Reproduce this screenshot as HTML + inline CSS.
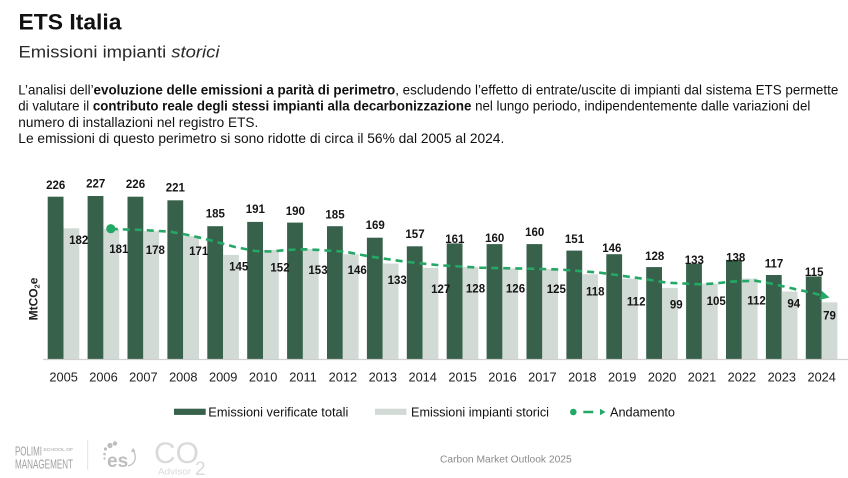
<!DOCTYPE html>
<html><head><meta charset="utf-8"><style>
html,body{margin:0;padding:0;background:#fff;}
svg{display:block;}
text{font-family:"Liberation Sans",sans-serif;}
</style></head><body>
<svg width="848" height="478" viewBox="0 0 848 478" xmlns="http://www.w3.org/2000/svg">
<rect width="848" height="478" fill="#fff"/>
<!-- Title -->
<text x="18.5" y="29.3" font-size="22" font-weight="bold" fill="#111" textLength="103" lengthAdjust="spacingAndGlyphs">ETS Italia</text>
<text x="18.5" y="57.3" font-size="16.5" fill="#2a2a2a" textLength="201" lengthAdjust="spacingAndGlyphs">Emissioni impianti <tspan font-style="italic">storici</tspan></text>
<!-- Paragraph -->
<g font-size="13.6" fill="#111">
<text x="18.3" y="94.3" textLength="820" lengthAdjust="spacingAndGlyphs">L’analisi dell’<tspan font-weight="bold">evoluzione delle emissioni a parità di perimetro</tspan>, escludendo l’effetto di entrate/uscite di impianti dal sistema ETS permette</text>
<text x="18.3" y="110.5" textLength="792" lengthAdjust="spacingAndGlyphs">di valutare il <tspan font-weight="bold">contributo reale degli stessi impianti alla decarbonizzazione</tspan> nel lungo periodo, indipendentemente dalle variazioni del</text>
<text x="18.3" y="126.8" textLength="240" lengthAdjust="spacingAndGlyphs">numero di installazioni nel registro ETS.</text>
<text x="18.3" y="143" textLength="486" lengthAdjust="spacingAndGlyphs">Le emissioni di questo perimetro si sono ridotte di circa il 56% dal 2005 al 2024.</text>
</g>
<!-- Dark bars -->
<g fill="#37614a">
<rect x="47.7" y="196.7" width="15.8" height="162.3"/>
<rect x="87.6" y="196.0" width="15.8" height="163.0"/>
<rect x="127.5" y="196.7" width="15.8" height="162.3"/>
<rect x="167.4" y="200.3" width="15.8" height="158.7"/>
<rect x="207.3" y="226.2" width="15.8" height="132.8"/>
<rect x="247.2" y="221.9" width="15.8" height="137.1"/>
<rect x="287.1" y="222.6" width="15.8" height="136.4"/>
<rect x="327.0" y="226.2" width="15.8" height="132.8"/>
<rect x="366.9" y="237.7" width="15.8" height="121.3"/>
<rect x="406.8" y="246.3" width="15.8" height="112.7"/>
<rect x="446.7" y="243.4" width="15.8" height="115.6"/>
<rect x="486.6" y="244.1" width="15.8" height="114.9"/>
<rect x="526.5" y="244.1" width="15.8" height="114.9"/>
<rect x="566.4" y="250.6" width="15.8" height="108.4"/>
<rect x="606.3" y="254.2" width="15.8" height="104.8"/>
<rect x="646.2" y="267.1" width="15.8" height="91.9"/>
<rect x="686.1" y="263.5" width="15.8" height="95.5"/>
<rect x="726.0" y="259.9" width="15.8" height="99.1"/>
<rect x="765.9" y="275.0" width="15.8" height="84.0"/>
<rect x="805.8" y="276.4" width="15.8" height="82.6"/>
</g>
<!-- Light bars -->
<g fill="#d2dad6">
<rect x="63.5" y="228.3" width="15.8" height="130.7"/>
<rect x="103.4" y="229.0" width="15.8" height="130.0"/>
<rect x="143.3" y="231.2" width="15.8" height="127.8"/>
<rect x="183.2" y="236.2" width="15.8" height="122.8"/>
<rect x="223.1" y="254.9" width="15.8" height="104.1"/>
<rect x="263.0" y="249.9" width="15.8" height="109.1"/>
<rect x="302.9" y="249.1" width="15.8" height="109.9"/>
<rect x="342.8" y="254.2" width="15.8" height="104.8"/>
<rect x="382.7" y="263.5" width="15.8" height="95.5"/>
<rect x="422.6" y="267.8" width="15.8" height="91.2"/>
<rect x="462.5" y="267.1" width="15.8" height="91.9"/>
<rect x="502.4" y="268.5" width="15.8" height="90.5"/>
<rect x="542.3" y="269.2" width="15.8" height="89.8"/>
<rect x="582.2" y="274.3" width="15.8" height="84.7"/>
<rect x="622.1" y="278.6" width="15.8" height="80.4"/>
<rect x="662.0" y="287.9" width="15.8" height="71.1"/>
<rect x="701.9" y="283.6" width="15.8" height="75.4"/>
<rect x="741.8" y="278.6" width="15.8" height="80.4"/>
<rect x="781.7" y="291.5" width="15.8" height="67.5"/>
<rect x="821.6" y="302.3" width="15.8" height="56.7"/>
</g>
<!-- Axis -->
<line x1="43" y1="359.5" x2="848" y2="359.5" stroke="#cfcfcf" stroke-width="1.3"/>
<!-- Trend line -->
<path d="M110.8,228.7 L120,229.3 L143,230 L170,231.7 L188,235 L200,237.7 L213,241 L235,247 L255,251 L270,251.5 L290,249.8 L305,249.3 L320,250 L345,251.7 L370,256.5 L390,259.5 L405,261.7 L440,265.3 L480,267.7 L530,268.7 L560,269.5 L600,272.7 L640,278.3 L667,282.7 L700,284.3 L715,283.5 L730,281.7 L755,280.7 L770,283.3 L796,289.3 L810,292.3 L821,295.2" fill="none" stroke="#23a865" stroke-width="2.6" stroke-dasharray="7,5"/>
<circle cx="110.8" cy="228.7" r="4.6" fill="#23a865"/>
<polygon points="829.5,297.5 819.7,299.9 821.9,290.9" fill="#23a865"/>
<!-- Dark value labels -->
<g font-size="11.5" font-weight="bold" fill="#151515" text-anchor="middle">
<text x="55.7" y="189">226</text>
<text x="95.7" y="187.3">227</text>
<text x="135.5" y="188">226</text>
<text x="175.3" y="191.3">221</text>
<text x="215.3" y="217.7">185</text>
<text x="255.3" y="213">191</text>
<text x="295.3" y="215">190</text>
<text x="335" y="218.3">185</text>
<text x="375.2" y="229">169</text>
<text x="415" y="238">157</text>
<text x="454.8" y="243">161</text>
<text x="494.7" y="242">160</text>
<text x="534.7" y="236">160</text>
<text x="574.5" y="243">151</text>
<text x="611.8" y="252">146</text>
<text x="654.7" y="260">128</text>
<text x="694.3" y="264">133</text>
<text x="735.7" y="261.7">138</text>
<text x="774" y="267.3">117</text>
<text x="814.2" y="276">115</text>
</g>
<!-- Light value labels -->
<g font-size="11.5" font-weight="bold" fill="#151515" text-anchor="middle">
<text x="78.7" y="244">182</text>
<text x="118.8" y="253">181</text>
<text x="155.3" y="254">178</text>
<text x="198.7" y="255">171</text>
<text x="238.7" y="270.7">145</text>
<text x="280" y="271.3">152</text>
<text x="318" y="274">153</text>
<text x="357.2" y="274">146</text>
<text x="397.2" y="284">133</text>
<text x="440.7" y="293">127</text>
<text x="475.5" y="292.3">128</text>
<text x="515.5" y="292.3">126</text>
<text x="556.3" y="293">125</text>
<text x="595.3" y="295.7">118</text>
<text x="636.2" y="305.7">112</text>
<text x="676.3" y="308.7">99</text>
<text x="716.2" y="305">105</text>
<text x="756.5" y="304.3">112</text>
<text x="793.8" y="307.3">94</text>
<text x="829.5" y="319.7">79</text>
</g>
<!-- Year labels -->
<g font-size="12.8" fill="#222" text-anchor="middle">
<text x="63.6" y="381.5">2005</text>
<text x="103.5" y="381.5">2006</text>
<text x="143.4" y="381.5">2007</text>
<text x="183.3" y="381.5">2008</text>
<text x="223.2" y="381.5">2009</text>
<text x="263.1" y="381.5">2010</text>
<text x="303.0" y="381.5">2011</text>
<text x="342.9" y="381.5">2012</text>
<text x="382.8" y="381.5">2013</text>
<text x="422.7" y="381.5">2014</text>
<text x="462.6" y="381.5">2015</text>
<text x="502.5" y="381.5">2016</text>
<text x="542.4" y="381.5">2017</text>
<text x="582.3" y="381.5">2018</text>
<text x="622.2" y="381.5">2019</text>
<text x="662.1" y="381.5">2020</text>
<text x="702.0" y="381.5">2021</text>
<text x="741.9" y="381.5">2022</text>
<text x="781.8" y="381.5">2023</text>
<text x="821.7" y="381.5">2024</text>
</g>
<!-- Y axis label -->
<text transform="translate(37.5,299) rotate(-90)" font-size="12" font-weight="bold" fill="#222" text-anchor="middle">MtCO<tspan font-size="7.5" dy="2">2</tspan><tspan dy="-2">e</tspan></text>
<!-- Legend -->
<rect x="174" y="408.7" width="31.7" height="6.2" fill="#37614a"/>
<text x="208.3" y="416.3" font-size="12.8" fill="#111" textLength="140" lengthAdjust="spacingAndGlyphs">Emissioni verificate totali</text>
<rect x="375" y="408.7" width="31.5" height="6.2" fill="#d2dad6"/>
<text x="411" y="416.3" font-size="12.8" fill="#111" textLength="138" lengthAdjust="spacingAndGlyphs">Emissioni impianti storici</text>
<circle cx="573.3" cy="412" r="3.3" fill="#23a865"/>
<line x1="583.3" y1="412" x2="593.3" y2="412" stroke="#23a865" stroke-width="2.5"/>
<polygon points="600,408.8 605.5,412 600,415.2" fill="#23a865"/>
<text x="610" y="416.3" font-size="12.8" fill="#111" textLength="65" lengthAdjust="spacingAndGlyphs">Andamento</text>
<!-- Footer logos -->
<g fill="#a0a0a0">
<text x="15" y="455.7" font-size="13" textLength="27" lengthAdjust="spacingAndGlyphs">POLIMI</text>
<text x="43.3" y="451" font-size="4.5" textLength="30" lengthAdjust="spacingAndGlyphs">SCHOOL OF</text>
<text x="15" y="468.3" font-size="13" textLength="58" lengthAdjust="spacingAndGlyphs">MANAGEMENT</text>
</g>
<line x1="87.7" y1="440" x2="87.7" y2="470" stroke="#e2e2e2" stroke-width="1"/>
<g fill="#bdbdbd">
<circle cx="110" cy="445.5" r="2.6"/>
<circle cx="115" cy="443.5" r="2.2"/>
<circle cx="105.5" cy="449" r="1.6"/>
<circle cx="104.5" cy="454" r="1.3"/>
<circle cx="104.5" cy="458.5" r="1.1"/>
<text x="107" y="467" font-size="19" font-weight="bold">es</text>
</g>
<path d="M128,466 C136,464 137,456 133,450" fill="none" stroke="#bdbdbd" stroke-width="1.2"/>
<polygon points="131,452 133,448 135.5,451.5" fill="#bdbdbd"/>
<g fill="#dadada">
<text x="154" y="463" font-size="30">CO</text>
<text x="195" y="475" font-size="19">2</text>
<text x="158" y="474.5" font-size="9.5" textLength="33" lengthAdjust="spacingAndGlyphs">Advisor</text>
</g>
<text x="440" y="462.7" font-size="10" fill="#8a8a8a" textLength="131.7" lengthAdjust="spacingAndGlyphs">Carbon Market Outlook 2025</text>
</svg>
</body></html>
